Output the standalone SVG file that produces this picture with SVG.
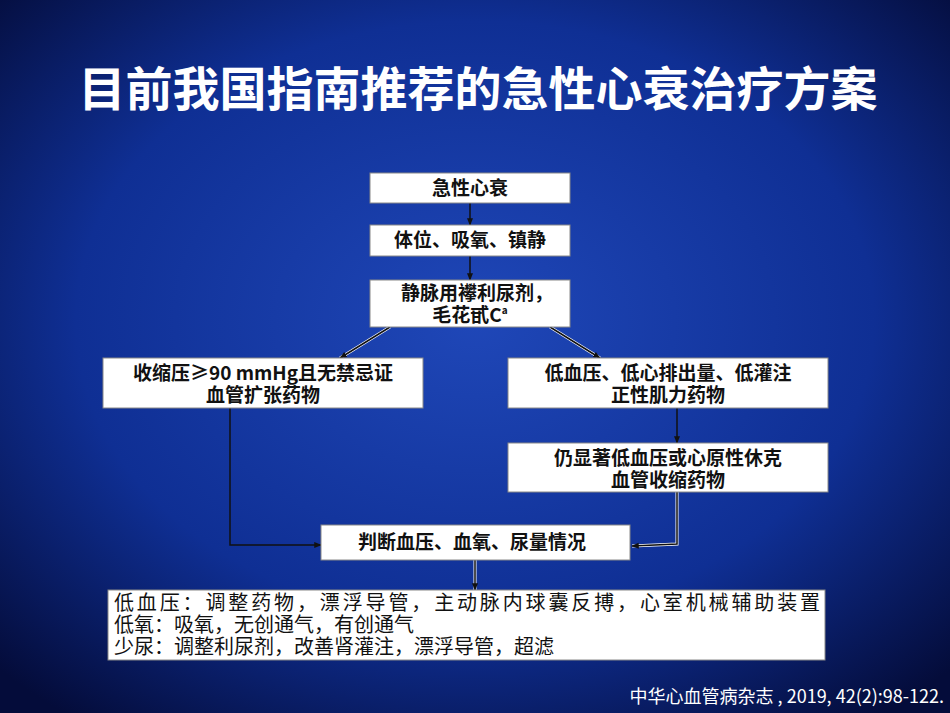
<svg xmlns="http://www.w3.org/2000/svg" width="950" height="713" viewBox="0 0 950 713">
<defs>
<radialGradient id="bg" cx="50%" cy="45%" r="70%">
<stop offset="0" stop-color="#1f47b8"/><stop offset="0.6" stop-color="#0f2f94"/><stop offset="1" stop-color="#040c3a"/>
</radialGradient>
<marker id="ar" viewBox="0 0 10 10" refX="9" refY="5" markerWidth="5" markerHeight="5" orient="auto"><path d="M0,1 L10,5 L0,9 z" fill="#111"/></marker>
<style>
.b{fill:#fff;stroke:#888;stroke-width:1}
.t{font-family:"Noto Sans CJK SC","Liberation Serif",serif;font-size:19px;font-weight:bold;fill:#111}
.s{font-size:20px;font-weight:normal}
.c{fill:none;stroke:#111;stroke-width:1.5;marker-end:url(#ar)}
.w{fill:none;stroke:#fff;stroke-width:3}
</style>
</defs>
<rect width="950" height="713" fill="url(#bg)"/>
<text x="478" y="106" text-anchor="middle" font-family="Noto Sans CJK SC,sans-serif" font-size="47" font-weight="bold" fill="#fff">目前我国指南推荐的急性心衰治疗方案</text>
<g id="connectors">
<line class="c" x1="470" y1="203" x2="470" y2="225"/>
<line class="c" x1="470" y1="256" x2="470" y2="280"/>
<line class="w" x1="390" y1="327" x2="340" y2="358"/>
<line class="c" x1="390" y1="327" x2="340" y2="358"/>
<line class="w" x1="550" y1="327" x2="600" y2="358"/>
<line class="c" x1="550" y1="327" x2="600" y2="358"/>
<polyline class="c" points="230,408 230,545 321,545"/>
<line class="c" x1="677" y1="408" x2="677" y2="443"/>
<polyline class="w" points="677,492 677,544 632,546"/>
<polyline class="c" points="677,492 677,544 632,546"/>
<line class="w" x1="475" y1="560" x2="475" y2="590"/>
<line class="c" x1="475" y1="560" x2="475" y2="590"/>
</g>
<g id="n1"><rect class="b" x="370" y="173" width="200" height="30"/><text class="t" x="470" y="195" text-anchor="middle">急性心衰</text></g>
<g id="n2"><rect class="b" x="370" y="225" width="200" height="31"/><text class="t" x="470" y="247" text-anchor="middle">体位、吸氧、镇静</text></g>
<g id="n3"><rect class="b" x="370" y="280" width="200" height="47"/><text class="t" x="477" y="300" text-anchor="middle">静脉用襻利尿剂，</text><text class="t" x="470" y="322" text-anchor="middle">毛花甙C<tspan font-size="10" dy="-8">a</tspan></text></g>
<g id="n4"><rect class="b" x="103" y="358" width="320" height="50"/><text class="t" x="263" y="380" text-anchor="middle">收缩压≥90 mmHg且无禁忌证</text><text class="t" x="263" y="402" text-anchor="middle">血管扩张药物</text></g>
<g id="n5"><rect class="b" x="508" y="358" width="320" height="50"/><text class="t" x="668" y="380" text-anchor="middle">低血压、低心排出量、低灌注</text><text class="t" x="668" y="402" text-anchor="middle">正性肌力药物</text></g>
<g id="n6"><rect class="b" x="508" y="443" width="320" height="49"/><text class="t" x="668" y="465" text-anchor="middle">仍显著低血压或心原性休克</text><text class="t" x="668" y="487" text-anchor="middle">血管收缩药物</text></g>
<g id="n7"><rect class="b" x="321" y="525" width="309" height="35"/><text class="t" x="472" y="549" text-anchor="middle">判断血压、血氧、尿量情况</text></g>
<g id="n8"><rect class="b" x="108" y="590" width="717" height="70"/>
<text class="t s" x="114" y="610" textLength="706" lengthAdjust="spacing">低血压：调整药物，漂浮导管，主动脉内球囊反搏，心室机械辅助装置</text>
<text class="t s" x="114" y="632">低氧：吸氧，无创通气，有创通气</text>
<text class="t s" x="114" y="654">少尿：调整利尿剂，改善肾灌注，漂浮导管，超滤</text></g>
<text x="944" y="703" text-anchor="end" font-family="Noto Sans CJK SC,sans-serif" font-size="18" fill="#fff">中华心血管病杂志 , 2019, 42(2):98-122.</text>
</svg>
